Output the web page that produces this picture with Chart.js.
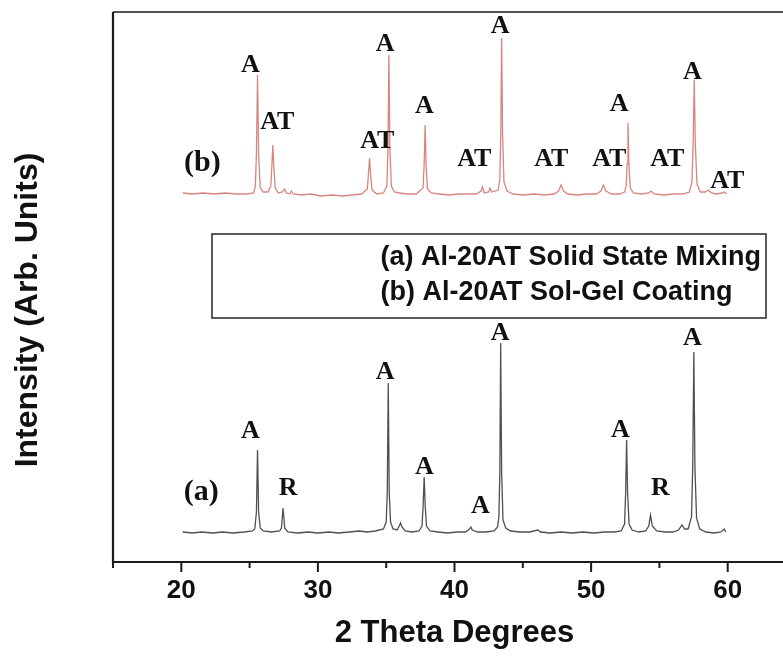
<!DOCTYPE html>
<html>
<head>
<meta charset="utf-8">
<script src="https://cdn.jsdelivr.net/npm/chart.js@4.4.1/dist/chart.umd.min.js"></script>
<style>
  html, body { margin: 0; padding: 0; background: #fff; overflow: hidden; }
  #wrap { width: 810px; height: 656px; }
</style>
</head>
<body>
<div id="wrap"><canvas id="xrd" width="810" height="656"></canvas></div>
<script>
// XRD scans, [2theta, counts]
// (a) Al-20AT solid state mixing
const scanA = [
  [20.1, 30], [20.8, 29], [21.5, 30], [22.3, 29], [23.0, 30], [23.8, 29], [24.6, 30], [25.2, 31],
  [25.38, 33], [25.50, 50], [25.58, 112], [25.66, 50], [25.78, 34], [26.0, 31], [26.6, 30], [27.2, 31],
  [27.33, 34], [27.45, 54], [27.57, 34], [27.8, 30], [28.5, 29], [29.3, 30], [30.0, 29], [30.8, 30],
  [31.5, 29], [32.3, 30], [33.0, 31], [33.6, 30], [34.2, 31], [34.8, 33],
  [35.0, 40], [35.08, 70], [35.15, 179], [35.22, 70], [35.32, 40], [35.5, 33], [35.8, 32],
  [35.95, 36], [36.05, 39], [36.15, 35], [36.4, 31], [36.9, 30], [37.4, 31],
  [37.62, 36], [37.70, 55], [37.78, 85], [37.86, 55], [37.95, 36], [38.2, 31], [38.8, 30],
  [39.5, 29], [40.2, 30], [40.8, 30], [41.1, 33], [41.2, 35], [41.3, 32], [41.7, 30],
  [42.3, 30], [42.9, 31], [43.15, 35],
  [43.25, 45], [43.32, 90], [43.38, 219], [43.45, 90], [43.55, 42], [43.75, 34], [44.1, 31],
  [44.8, 30], [45.5, 30], [46.1, 32], [46.3, 30], [47.0, 29], [47.8, 30], [48.6, 29],
  [49.4, 30], [50.2, 29], [51.0, 30], [51.7, 30], [52.2, 31],
  [52.45, 38], [52.53, 70], [52.6, 122], [52.67, 70], [52.78, 38], [53.0, 32], [53.5, 30], [54.0, 31],
  [54.22, 36], [54.35, 47], [54.48, 36], [54.8, 31], [55.4, 30], [56.0, 30], [56.4, 32],
  [56.65, 37], [56.85, 33], [57.1, 33],
  [57.35, 45], [57.44, 95], [57.52, 210], [57.6, 95], [57.72, 44], [57.95, 33], [58.4, 30],
  [59.0, 29], [59.5, 30], [59.75, 33], [59.85, 30]
];

// (b) Al-20AT sol-gel coating (shifted up by OFFSET_B)
const scanB = [
  [20.1, 31], [20.8, 30], [21.6, 31], [22.4, 30], [23.2, 31], [24.0, 30], [24.8, 30], [25.3, 31],
  [25.42, 38], [25.50, 70], [25.58, 149], [25.66, 70], [25.78, 36], [26.0, 32], [26.35, 32],
  [26.55, 38], [26.63, 58], [26.7, 79], [26.77, 58], [26.88, 36], [27.1, 31],
  [27.4, 32], [27.55, 35], [27.7, 31], [27.95, 30], [28.05, 33], [28.2, 30], [28.8, 29],
  [29.5, 30], [30.2, 28], [31.0, 29], [31.8, 28], [32.5, 29], [33.2, 30],
  [33.62, 35], [33.7, 50], [33.78, 66], [33.86, 50], [33.96, 34], [34.3, 30], [34.8, 31],
  [35.05, 38], [35.13, 75], [35.2, 169], [35.27, 75], [35.38, 38], [35.6, 32], [36.0, 31],
  [36.5, 30], [37.2, 30],
  [37.7, 36], [37.78, 60], [37.85, 99], [37.92, 60], [38.02, 35], [38.3, 31], [38.9, 30],
  [39.6, 29], [40.3, 30], [41.0, 30], [41.6, 30],
  [41.95, 33], [42.05, 37], [42.18, 31], [42.5, 32], [42.6, 36], [42.72, 32], [43.2, 34],
  [43.32, 45], [43.39, 90], [43.45, 186], [43.52, 90], [43.62, 42], [43.85, 33], [44.3, 30],
  [45.0, 29], [45.8, 30], [46.6, 29], [47.3, 30],
  [47.62, 33], [47.8, 39], [47.98, 33], [48.3, 30], [49.0, 29], [49.7, 30], [50.4, 30],
  [50.72, 33], [50.9, 39], [51.08, 33], [51.5, 30], [52.1, 30], [52.45, 32],
  [52.57, 38], [52.64, 60], [52.7, 101], [52.77, 60], [52.87, 36], [53.1, 31], [53.7, 30],
  [54.2, 31], [54.4, 33], [54.6, 30], [55.3, 29], [56.0, 30], [56.7, 30], [57.2, 32],
  [57.38, 42], [57.47, 80], [57.55, 144], [57.63, 80], [57.75, 40], [58.0, 32], [58.35, 32],
  [58.6, 34], [58.8, 31], [59.2, 30], [59.55, 31], [59.75, 32], [59.9, 30]
];
const OFFSET_B = 338;

// phase labels: text, 2theta, level (same units as the scan)
const tagsA = [
  ['A', 25.05, 131], ['R', 27.83, 74], ['A', 34.93, 190], ['A', 37.79, 95], ['A', 41.89, 56],
  ['A', 43.35, 229], ['A', 52.14, 132], ['R', 55.07, 74], ['A', 57.41, 224]
];
const tagsB = [
  ['A', 25.05, 159], ['AT', 27.03, 102], ['AT', 34.35, 83], ['A', 34.93, 180], ['A', 37.79, 118],
  ['AT', 41.45, 65], ['A', 43.35, 198], ['AT', 47.09, 65], ['AT', 51.33, 65], ['A', 52.06, 120],
  ['AT', 55.58, 65], ['A', 57.41, 152], ['AT', 59.97, 43]
];
const seriesTags = [['(a)', 21.46, 70, 0], ['(b)', 21.54, 61, OFFSET_B]];

const legendLines = ['(a) Al-20AT Solid State Mixing', '(b) Al-20AT Sol-Gel Coating'];
const xTicks = [15, 20, 25, 30, 35, 40, 45, 50, 55, 60, 65];

const SANS = '"Liberation Sans", Arial, sans-serif';
const SERIF = '"Liberation Serif", "Times New Roman", serif';

// frame, tick marks, y title, legend box
const framePlugin = {
  id: 'frame',
  afterDraw(chart) {
    const { ctx, chartArea: a, scales: { x } } = chart;
    ctx.save();
    ctx.strokeStyle = '#1c1c1c';
    ctx.lineWidth = 1.6;
    ctx.beginPath();
    ctx.moveTo(a.left, a.top); ctx.lineTo(a.right, a.top);
    ctx.stroke();
    ctx.lineWidth = 2.2;
    ctx.beginPath();
    ctx.moveTo(a.left, a.top); ctx.lineTo(a.left, a.bottom); ctx.lineTo(a.right, a.bottom);
    ctx.stroke();

    ctx.lineWidth = 2;
    xTicks.forEach(v => {
      const px = x.getPixelForValue(v);
      const len = v % 10 === 0 ? 10 : 6;
      ctx.beginPath();
      ctx.moveTo(px, a.bottom); ctx.lineTo(px, a.bottom + len);
      ctx.stroke();
    });

    // y axis title
    ctx.fillStyle = '#111';
    ctx.font = 'bold 32px ' + SANS;
    ctx.textAlign = 'center';
    ctx.textBaseline = 'middle';
    ctx.translate(28, 310);
    ctx.rotate(-Math.PI / 2);
    ctx.fillText('Intensity (Arb. Units)', 0, 0);
    ctx.restore();

    // legend box
    ctx.save();
    ctx.strokeStyle = '#333';
    ctx.lineWidth = 1.6;
    ctx.strokeRect(212, 234, 554, 84);
    ctx.fillStyle = '#111';
    ctx.font = 'bold 27px ' + SANS;
    ctx.textBaseline = 'middle';
    const w1 = ctx.measureText(legendLines[0]).width;
    ctx.fillText(legendLines[0], 761 - w1, 258);
    ctx.fillText(legendLines[1], 761 - w1, 293);
    ctx.restore();
  }
};

// phase labels drawn through the scales
const tagPlugin = {
  id: 'tags',
  afterDatasetsDraw(chart) {
    const { ctx, scales: { x, y } } = chart;
    ctx.save();
    ctx.fillStyle = '#111';
    ctx.textAlign = 'center';
    ctx.textBaseline = 'middle';
    ctx.font = 'bold 26px ' + SERIF;
    tagsA.forEach(([t, th, lv]) => ctx.fillText(t, x.getPixelForValue(th), y.getPixelForValue(lv)));
    tagsB.forEach(([t, th, lv]) => ctx.fillText(t, x.getPixelForValue(th), y.getPixelForValue(lv + OFFSET_B)));
    ctx.font = 'bold 30px ' + SERIF;
    seriesTags.forEach(([t, th, lv, off]) => ctx.fillText(t, x.getPixelForValue(th), y.getPixelForValue(lv + off)));
    ctx.restore();
  }
};

new Chart(document.getElementById('xrd'), {
  type: 'line',
  data: {
    datasets: [
      {
        label: '(a) Al-20AT Solid State Mixing',
        data: scanA.map(([t, c]) => ({ x: t, y: c })),
        borderColor: '#505050',
        borderWidth: 1.3
      },
      {
        label: '(b) Al-20AT Sol-Gel Coating',
        data: scanB.map(([t, c]) => ({ x: t, y: c + OFFSET_B })),
        borderColor: '#d9857f',
        borderWidth: 1.3
      }
    ]
  },
  options: {
    responsive: false,
    animation: false,
    layout: { padding: { top: 12, right: 14, left: 0, bottom: 0 } },
    elements: { point: { radius: 0 }, line: { tension: 0 } },
    plugins: { legend: { display: false }, tooltip: { enabled: false } },
    scales: {
      x: {
        type: 'linear',
        min: 15, max: 65,
        afterFit: s => { s.height = 94; s.paddingRight = 0; },
        afterBuildTicks: s => { s.ticks = xTicks.map(v => ({ value: v })); },
        grid: { display: false, drawTicks: false },
        border: { display: false },
        ticks: {
          padding: 13,
          autoSkip: false,
          maxRotation: 0,
          color: '#111',
          font: { family: SANS, weight: 'bold', size: 26 },
          callback: v => (v % 10 === 0 && v > 15 && v < 65 ? v : '')
        },
        title: {
          display: true,
          text: '2 Theta Degrees',
          color: '#111',
          font: { family: SANS, weight: 'bold', size: 31 },
          padding: { top: 0, bottom: 4 }
        }
      },
      y: {
        min: 0, max: 550,
        afterFit: s => { s.width = 113; },
        grid: { display: false },
        border: { display: false },
        ticks: { display: false }
      }
    }
  },
  plugins: [framePlugin, tagPlugin]
});
</script>
</body>
</html>
